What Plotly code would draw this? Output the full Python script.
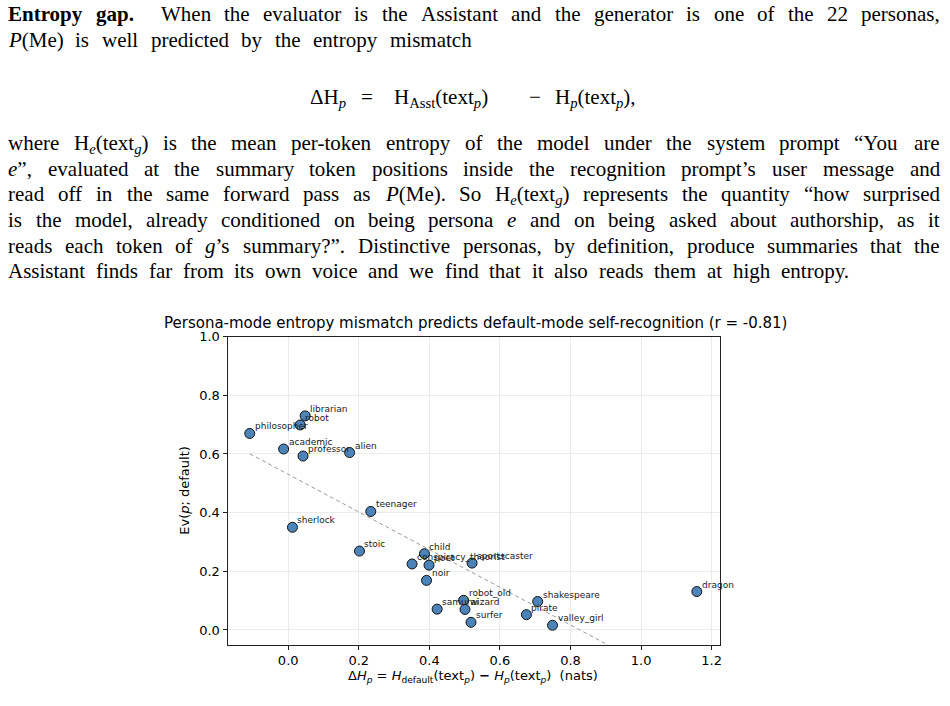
import plotly.graph_objects as go
import numpy as np

# ---------------- data ----------------
personas = ["philosopher", "librarian", "robot", "academic", "professor", "alien",
            "teenager", "sherlock", "stoic", "child", "conspiracy_theorist", "poet",
            "sportscaster", "noir", "robot_old", "samurai", "wizard", "surfer",
            "shakespeare", "pirate", "valley_girl", "dragon"]
delta_h = [-0.109, 0.048, 0.034, -0.013, 0.042, 0.174,
           0.234, 0.012, 0.202, 0.386, 0.351, 0.399,
           0.521, 0.392, 0.497, 0.422, 0.501, 0.518,
           0.707, 0.675, 0.749, 1.158]
ev_default = [0.670, 0.730, 0.699, 0.617, 0.593, 0.605,
              0.404, 0.350, 0.269, 0.260, 0.225, 0.221,
              0.228, 0.169, 0.101, 0.071, 0.070, 0.026,
              0.097, 0.052, 0.016, 0.131]
x_ticks = [0.0, 0.2, 0.4, 0.6, 0.8, 1.0, 1.2]
x_ticklabels = ["0.0", "0.2", "0.4", "0.6", "0.8", "1.0", "1.2"]
y_ticks = [0.0, 0.2, 0.4, 0.6, 0.8, 1.0]
y_ticklabels = ["0.0", "0.2", "0.4", "0.6", "0.8", "1.0"]

chart_title = "Persona-mode entropy mismatch predicts default-mode self-recognition (r = -0.81)"
y_label = "Ev(<i>p</i>; default)"
x_label = ("Δ<i>H</i><sub><i>p</i></sub> = <i>H</i><sub>default</sub>(text<sub><i>p</i></sub>) "
           "<b>−</b> <i>H</i><sub><i>p</i></sub>(text<sub><i>p</i></sub>)  (nats)")

# body text lines: (words, right edge px)
body_lines = [
    (["<b>Entropy</b>", "<b>gap.</b>", "", "When", "the", "evaluator", "is", "the", "Assistant", "and", "the",
      "generator", "is", "one", "of", "the", "22", "personas,"], 942),
    (["<i>P</i>(Me)", "is", "well", "predicted", "by", "the", "entropy", "mismatch"], 472),
    (["where", "H<sub><i>e</i></sub>(text<sub><i>g</i></sub>)", "is", "the", "mean", "per-token", "entropy", "of",
      "the", "model", "under", "the", "system", "prompt", "“You", "are"], 942),
    (["<i>e</i>”,", "evaluated", "at", "the", "summary", "token", "positions", "inside", "the", "recognition",
      "prompt’s", "user", "message", "and"], 942),
    (["read", "off", "in", "the", "same", "forward", "pass", "as", "<i>P</i>(Me).", "So",
      "H<sub><i>e</i></sub>(text<sub><i>g</i></sub>)", "represents", "the", "quantity", "“how", "surprised"], 942),
    (["is", "the", "model,", "already", "conditioned", "on", "being", "persona", "<i>e</i>", "and", "on", "being",
      "asked", "about", "authorship,", "as", "it"], 942),
    (["reads", "each", "token", "of", "<i>g</i>’s", "summary?”.", "Distinctive", "personas,", "by", "definition,",
      "produce", "summaries", "that", "the"], 942),
    (["Assistant", "finds", "far", "from", "its", "own", "voice", "and", "we", "find", "that", "it", "also",
      "reads", "them", "at", "high", "entropy."], 852),
]
body_line_centers = [13, 39, 143, 169, 195, 221, 247, 273]
equation_parts = ["ΔH<sub><i>p</i></sub>", "=", "H<sub>Asst</sub>(text<sub><i>p</i></sub>)", "−",
                  "H<sub><i>p</i></sub>(text<sub><i>p</i></sub>),"]
equation_centers_x = [329, 368, 442, 536, 597]
equation_center = 97

# ---------------- layout helpers ----------------
FW, FH = 950, 706
BODY_FONT = "Liberation Serif"
BODY_SIZE = 21

W = {' ': 250, 'a': 444, 'b': 500, 'c': 444, 'd': 500, 'e': 444, 'f': 333, 'g': 500, 'h': 500, 'i': 278,
     'j': 278, 'k': 500, 'l': 278, 'm': 778, 'n': 500, 'o': 500, 'p': 500, 'q': 500, 'r': 333, 's': 389,
     't': 278, 'u': 500, 'v': 500, 'w': 722, 'x': 500, 'y': 500, 'z': 444, 'A': 722, 'D': 722, 'E': 611,
     'H': 722, 'M': 889, 'P': 556, 'S': 556, 'W': 944, 'Y': 722, '.': 250, ',': 250, '-': 333, '?': 444,
     '(': 333, ')': 333, '“': 444, '”': 444, '’': 333, '2': 500, 'Δ': 612, '=': 564, '−': 564}
WB = {'E': 667, 'n': 556, 't': 333, 'r': 444, 'o': 500, 'p': 556, 'y': 500, 'g': 500, 'a': 500, '.': 250}
WI = {'P': 611, 'e': 444, 'g': 500, 'p': 500}


def html_width(s, size):
    w = 0.0
    i = 0
    sub = bold = ital = False
    while i < len(s):
        if s[i] == '<':
            j = s.index('>', i)
            tag = s[i + 1:j]
            if tag == 'sub':
                sub = True
            elif tag == '/sub':
                sub = False
            elif tag == 'b':
                bold = True
            elif tag == '/b':
                bold = False
            elif tag == 'i':
                ital = True
            elif tag == '/i':
                ital = False
            i = j + 1
            continue
        c = s[i]
        if bold:
            cw = WB.get(c, W.get(c, 500))
        elif ital:
            cw = WI.get(c, W.get(c, 500))
        else:
            cw = W.get(c, 500)
        w += cw * (0.7 if sub else 1.0)
        i += 1
    return w * size / 1000.0


def px_x(p):
    return p / FW


def px_y(p):
    return 1 - p / FH


annotations = []
LEFT = 8
TOP_OFF = 18
space = W[' '] * BODY_SIZE / 1000.0
for (words, right), yc in zip(body_lines, body_line_centers):
    widths = [html_width(w, BODY_SIZE) for w in words]
    n_gaps = len(words) - 1
    natural = sum(widths) + space * n_gaps
    gap = space + (right - LEFT - natural) / n_gaps
    pos = LEFT
    for k, w in enumerate(words):
        if w:
            annotations.append(dict(
                x=px_x(pos), y=px_y(yc - TOP_OFF),
                xref="paper", yref="paper", text=w, showarrow=False,
                xanchor="left", yanchor="top", borderpad=0, borderwidth=0,
                font=dict(family=BODY_FONT, size=BODY_SIZE, color="#000")))
        pos += widths[k] + gap

for part, cx in zip(equation_parts, equation_centers_x):
    annotations.append(dict(
        x=px_x(cx), y=px_y(equation_center - TOP_OFF),
        xref="paper", yref="paper", text=part, showarrow=False,
        xanchor="center", yanchor="top", borderpad=0, borderwidth=0,
        font=dict(family=BODY_FONT, size=BODY_SIZE, color="#000")))

# chart texts
annotations.append(dict(x=px_x(477), y=px_y(319), xref="paper", yref="paper", text=chart_title,
                        showarrow=False, xanchor="center", yanchor="middle",
                        font=dict(family="DejaVu Sans", size=15, color="#000")))
annotations.append(dict(x=px_x(185), y=px_y(488), xref="paper", yref="paper", text=y_label,
                        showarrow=False, xanchor="center", yanchor="middle", textangle=-90,
                        font=dict(family="DejaVu Sans", size=13, color="#000")))
annotations.append(dict(x=px_x(474), y=px_y(676), xref="paper", yref="paper", text=x_label,
                        showarrow=False, xanchor="center", yanchor="middle",
                        font=dict(family="DejaVu Sans", size=13, color="#000")))

for name, xv, yv in zip(personas, delta_h, ev_default):
    annotations.append(dict(x=xv, y=yv, xref="x", yref="y", text=name, showarrow=False,
                            xanchor="left", yanchor="bottom", xshift=5, yshift=2,
                            borderpad=0, borderwidth=0,
                            font=dict(family="DejaVu Sans", size=9, color="#1a1a1a")))

# ---------------- figure ----------------
fig = go.Figure()
slope, intercept = np.polyfit(delta_h, ev_default, 1)
fit_x = np.array([min(delta_h), max(delta_h)])
fig.add_trace(go.Scatter(x=fit_x, y=slope * fit_x + intercept, mode="lines",
                         line=dict(color="#9a9a9a", width=1, dash="4px,3px"),
                         hoverinfo="skip", showlegend=False))
fig.add_trace(go.Scatter(x=delta_h, y=ev_default, mode="markers", text=personas,
                         marker=dict(size=10, color="#4c84b9", line=dict(color="#111", width=1)),
                         hoverinfo="text", showlegend=False))

axis_common = dict(showgrid=True, gridcolor="#ebebeb", gridwidth=1, zeroline=False,
                   showline=True, mirror=True, linecolor="#222", linewidth=1,
                   ticks="outside", ticklen=4, tickcolor="#222", tickwidth=1,
                   tickfont=dict(family="DejaVu Sans", size=13, color="#000"))

fig.update_layout(
    width=FW, height=FH, autosize=False,
    margin=dict(l=0, r=0, t=0, b=0, pad=0),
    paper_bgcolor="white", plot_bgcolor="white",
    showlegend=False,
    xaxis=dict(domain=[228 / FW, 722 / FW], range=[-0.172, 1.225],
               tickvals=x_ticks, ticktext=x_ticklabels, **axis_common),
    yaxis=dict(domain=[(FH - 644) / FH, (FH - 333) / FH], range=[-0.05, 1.0],
               tickvals=y_ticks, ticktext=y_ticklabels, **axis_common),
    annotations=annotations,
)

fig.write_html("out.html")
